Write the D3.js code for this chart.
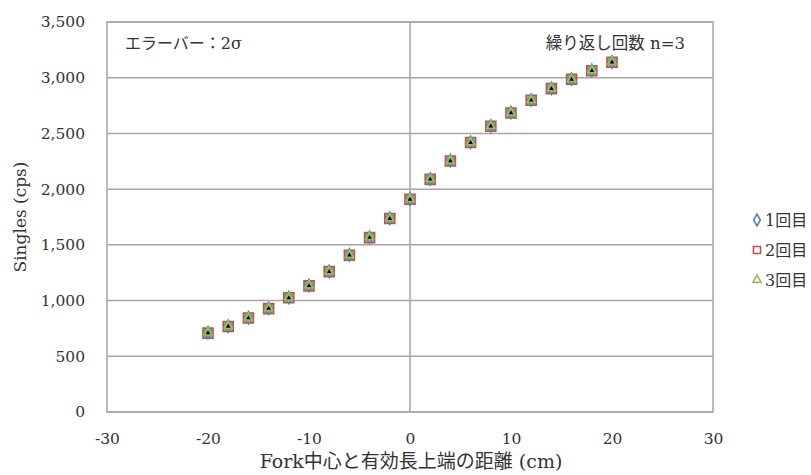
<!DOCTYPE html>
<html><head><meta charset="utf-8">
<script src="https://cdn.jsdelivr.net/npm/d3@7"></script>
<style>
body{margin:0;background:#fff;}
</style></head><body>
<svg id="c" width="811" height="475"></svg>
<script>
const positions = [-20,-18,-16,-14,-12,-10,-8,-6,-4,-2,0,2,4,6,8,10,12,14,16,18,20];
const run1 = [712,770,846,931,1027,1135,1262,1410,1568,1738,1911,2091,2256,2420,2567,2687,2800,2905,2988,3066,3142];
const run2 = [708,767,844,928,1025,1132,1260,1407,1565,1736,1909,2088,2253,2418,2565,2684,2798,2902,2986,3063,3139];
const run3 = [714,772,848,933,1029,1137,1264,1412,1570,1740,1913,2093,2258,2422,2569,2689,2802,2907,2990,3068,3144];
const seriesNames = ["1回目","2回目","3回目"];
const xTicks = [-30,-20,-10,0,10,20,30];
const yTicks = [0,500,1000,1500,2000,2500,3000,3500];
const noteLeft = "エラーバー：2σ";
const noteRight = "繰り返し回数 n=3";
const xTitle = "Fork中心と有効長上端の距離 (cm)";
const yTitle = "Singles (cps)";

const FF = "'DejaVu Serif','Noto Sans CJK JP',serif";
const svg = d3.select("#c");
const L=107,R=713,T=22,B=412;
const x = d3.scaleLinear().domain([-30,30]).range([L,R]);
const y = d3.scaleLinear().domain([0,3500]).range([B,T]);
const grid="#a6a6a6";
const tc="#333";

svg.append("g").selectAll("line").data(yTicks).join("line")
  .attr("x1",L).attr("x2",R).attr("y1",d=>y(d)).attr("y2",d=>y(d))
  .attr("stroke",grid).attr("stroke-width",1.5);
svg.append("rect").attr("x",L).attr("y",T).attr("width",R-L).attr("height",B-T)
  .attr("fill","none").attr("stroke",grid).attr("stroke-width",1.5);
svg.append("line").attr("x1",x(0)).attr("x2",x(0)).attr("y1",T).attr("y2",B)
  .attr("stroke",grid).attr("stroke-width",1.5);

const fmt = d3.format(",");
const ya = svg.append("g").attr("transform",`translate(${L-22},0)`)
  .call(d3.axisLeft(y).tickValues(yTicks).tickFormat(fmt).tickSize(0).tickPadding(0));
ya.attr("font-family",null);
ya.select(".domain").remove();
ya.selectAll("text").style("font-family",FF).style("font-size","15.5px").attr("fill",tc);
const xa = svg.append("g").attr("transform",`translate(0,${B+21})`)
  .call(d3.axisBottom(x).tickValues(xTicks).tickFormat(d=>d<0?"-"+Math.abs(d):d).tickSize(0).tickPadding(0));
xa.attr("font-family",null);
xa.select(".domain").remove();
xa.selectAll("text").style("font-family",FF).style("font-size","15.5px").attr("fill",tc);

svg.append("text").attr("transform",`translate(26,${(T+B)/2}) rotate(-90)`)
  .attr("text-anchor","middle").style("font-family",FF).style("font-size","17px").attr("fill",tc).text(yTitle);
svg.append("text").attr("x",411).attr("y",468).attr("text-anchor","middle")
  .style("font-family",FF).style("font-size","19px").attr("fill",tc).text(xTitle);

svg.append("text").attr("x",125).attr("y",49).style("font-family",FF).style("font-size","16px").attr("fill",tc).text(noteLeft);
svg.append("text").attr("x",685).attr("y",49).attr("text-anchor","end").style("font-family",FF).style("font-size","16.5px").attr("fill",tc).text(noteRight);

const data = positions.map((p,i)=>({x:p,v:[run1[i],run2[i],run3[i]]}));
const colors = ["#4F81BD","#C0504D","#9BBB59"];
const sym = [d3.symbolDiamond, d3.symbolSquare, d3.symbolTriangle];

svg.append("g").selectAll("path").data(data).join("path")
  .attr("transform",d=>`translate(${x(d.x)},${y(d.v[1])})`)
  .attr("d",d3.symbol(sym[1],100)).attr("fill","#9bb068").attr("stroke",colors[1]).attr("stroke-width",1.6);
svg.append("g").selectAll("path").data(data).join("path")
  .attr("transform",d=>`translate(${x(d.x)},${y(d.v[0])})`)
  .attr("d",d3.symbol(sym[0],50)).attr("fill","none").attr("stroke",colors[0]).attr("stroke-width",1.2);
svg.append("g").selectAll("path").data(data).join("path")
  .attr("transform",d=>`translate(${x(d.x)},${y(d.v[2])})`)
  .attr("d",d3.symbol(sym[2],40)).attr("fill","#8fbf6a").attr("stroke",colors[2]).attr("stroke-width",1);
svg.append("g").selectAll("path").data(data).join("path")
  .attr("transform",d=>`translate(${x(d.x)},${y(d.v[2])+0.5})`)
  .attr("d",d3.symbol(d3.symbolTriangle,9)).attr("fill","#000");

const lg = svg.append("g");
seriesNames.forEach((n,i)=>{
  const ly = 220 + i*30;
  lg.append("path").attr("transform",`translate(757,${ly})`)
   .attr("d",d3.symbol(sym[i],i===2?30:(i===1?50:40)))
   .attr("fill","none").attr("stroke",colors[i]).attr("stroke-width",1.6);
  lg.append("text").attr("x",765).attr("y",ly+5.5).style("font-family",FF).style("font-size","16px").attr("fill",tc).text(n);
});
</script></body></html>
